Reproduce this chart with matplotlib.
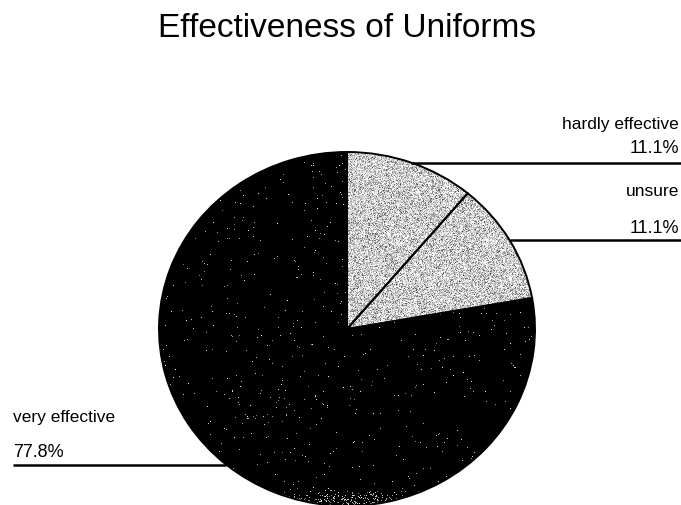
import numpy as np
import matplotlib.pyplot as plt

plt.rcParams['font.family'] = ['Liberation Sans', 'DejaVu Sans']

title = 'Effectiveness of Uniforms'
labels = ['hardly effective', 'unsure', 'very effective']
values = [11.1, 11.1, 77.8]
base_gray = [0.82, 0.82, 0.0]

W, H = 681, 505
fig = plt.figure(figsize=(W / 100, H / 100), dpi=100, facecolor='white')
ax = fig.add_axes([0, 0, 1, 1])

# pie centre and semi axes in pixels (the scanned pie is slightly squashed)
cx, cy = 347, 329
rx, ry = 188, 177

def dx(px):
    return (px - cx) / rx

def dy(py):
    # py counted from the top of the image
    return (cy - py) / ry

wedges, _ = ax.pie(values, startangle=90, counterclock=False, radius=1,
                   center=(0, 0), colors=[str(g) for g in base_gray],
                   wedgeprops=dict(edgecolor='black', linewidth=1.4))
ax.set_aspect('auto')
ax.set_xlim(dx(0), dx(W))
ax.set_ylim(dy(H), dy(0))
ax.axis('off')

# speckled scan texture inside each wedge
rng = np.random.default_rng(3)
n = 400
vv = np.linspace(1, -1, n)[:, None] * np.ones((1, n))
for w, g in zip(wedges, base_gray):
    if g > 0.5:
        tex = np.clip(g + 0.17 * rng.standard_normal((n, n)), 0, 1)
        dots = rng.random((n, n)) < 0.06
        tex[dots] = 0.3 + rng.random(dots.sum()) * 0.3
    else:
        tex = np.zeros((n, n))
        dens = 0.006 + 0.2 * np.clip((-vv - 0.9) / 0.1, 0, 1)
        spk = rng.random((n, n)) < dens
        tex[spk] = 0.5 + 0.45 * rng.random(spk.sum())
    im = ax.imshow(tex, cmap='gray', vmin=0, vmax=1, extent=(-1, 1, -1, 1),
                   interpolation='nearest', zorder=2, aspect='auto')
    im.set_clip_path(w)
    w.set_facecolor('none')
    w.set_zorder(3)

# leader lines from the middle of each wedge edge
pct = ['{:.1f}%'.format(v) for v in values]
line_end = [dx(W), dx(W), dx(13)]
for w, xe in zip(wedges, line_end):
    t = np.deg2rad((w.theta1 + w.theta2) / 2)
    x0, y0 = np.cos(t), np.sin(t)
    ax.plot([x0, xe], [y0, y0], color='black', lw=1.8, zorder=4,
            solid_capstyle='butt')

# label text (baselines in pixels from the top)
lab_pos = [(679, 129, 153, 'right'), (679, 196, 233, 'right'),
           (13, 422, 457, 'left')]
for lab, p, (x, yl, yp, ha) in zip(labels, pct, lab_pos):
    fig.text(x / W, 1 - yl / H, lab, ha=ha, va='baseline', fontsize=12.5,
             color='black')
    fig.text(x / W, 1 - yp / H, p, ha=ha, va='baseline', fontsize=13,
             color='black')

fig.text(347 / W, 1 - 37 / H, title, ha='center', va='baseline',
         fontsize=24, color='black')

plt.savefig('out.png', dpi=100, facecolor='white')
plt.close()
